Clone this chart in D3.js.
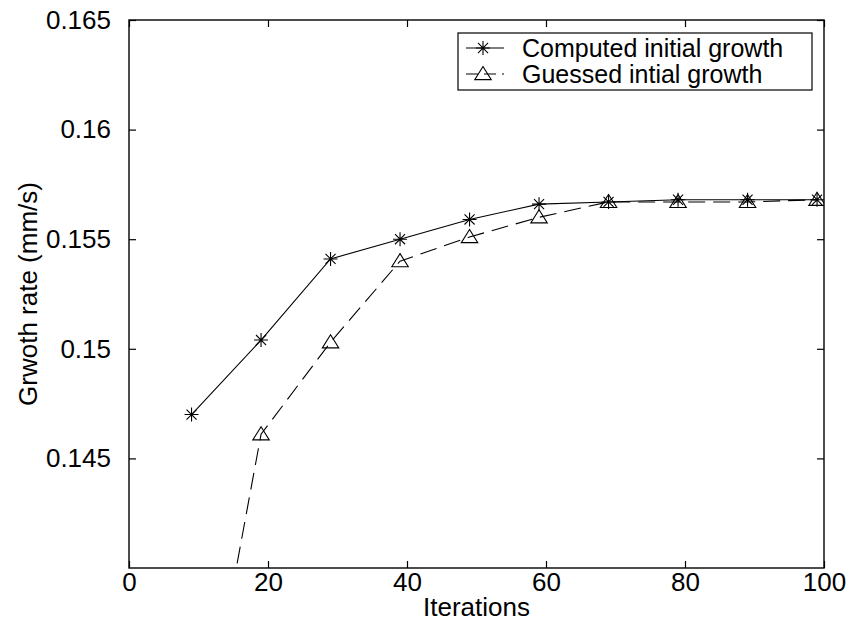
<!DOCTYPE html>
<html>
<head>
<meta charset="utf-8">
<script src="https://cdn.jsdelivr.net/npm/d3@7"></script>
<style>
  html, body { margin: 0; padding: 0; background: #fff; }
  svg { display: block; font-family: "Liberation Sans", Arial, Helvetica, sans-serif; }
</style>
</head>
<body>
<svg id="chart" width="853" height="638"></svg>
<script>
// Iteration counts at which the growth rate was evaluated
const iterations = [9, 19, 29, 39, 49, 59, 69, 79, 89, 99];
// Growth rate (mm/s) starting from the computed initial growth
const computedGrowth = [0.1470, 0.1504, 0.1541, 0.1550, 0.1559, 0.1566, 0.1567, 0.1568, 0.1568, 0.1568];
// Growth rate (mm/s) starting from the guessed initial growth
const guessedGrowth = [0.1290, 0.1461, 0.1503, 0.1540, 0.1551, 0.1560, 0.1567, 0.1567, 0.1567, 0.1568];

const xTicks = [0, 20, 40, 60, 80, 100];
const yTicks = [0.145, 0.15, 0.155, 0.16, 0.165];
const yTickLabels = ["0.145", "0.15", "0.155", "0.16", "0.165"];
const seriesNames = ["Computed initial growth", "Guessed intial growth"];

const svg = d3.select("#chart");
const margin = { left: 129, top: 20, right: 29, bottom: 70 };
const W = 853 - margin.left - margin.right;
const H = 638 - margin.top - margin.bottom;

const x = d3.scaleLinear().domain([0, 100]).range([0, W]);
const y = d3.scaleLinear().domain([0.14, 0.165]).range([H, 0]);

const g = svg.append("g").attr("transform", `translate(${margin.left},${margin.top})`);

svg.append("defs").append("clipPath").attr("id", "plotClip")
  .append("rect").attr("x", 0).attr("y", 0).attr("width", W).attr("height", H);

const tickFont = 26;
const labelFont = 26;
const legendFont = 25;
const tickLen = 7;
const dashPattern = "17,8";

// Axes with inward ticks on all four sides
const xBottom = d3.axisBottom(x).tickValues(xTicks).tickSize(-tickLen).tickPadding(5).tickFormat(d3.format("d"));
const xTop = d3.axisTop(x).tickValues(xTicks).tickSize(-tickLen).tickFormat("");
const yLeft = d3.axisLeft(y).tickValues(yTicks).tickSize(-tickLen).tickPadding(18)
  .tickFormat((d, i) => yTickLabels[i]);
const yRight = d3.axisRight(y).tickValues(yTicks).tickSize(-tickLen).tickFormat("");

function styleAxis(sel) {
  sel.select(".domain").remove();
  sel.selectAll(".tick line").attr("stroke", "#000").attr("stroke-width", 1.2);
  sel.selectAll(".tick text").attr("fill", "#000").style("font-size", tickFont + "px")
    .style("font-family", "'Liberation Sans', Arial, sans-serif");
}

g.append("g").attr("transform", `translate(0,${H})`).call(xBottom).call(styleAxis);
g.append("g").call(xTop).call(styleAxis);
g.append("g").call(yLeft).call(styleAxis);
g.append("g").attr("transform", `translate(${W},0)`).call(yRight).call(styleAxis);

// Plot box
g.append("rect").attr("x", 0).attr("y", 0).attr("width", W).attr("height", H)
  .attr("fill", "none").attr("stroke", "#000").attr("stroke-width", 1.4);

// Axis titles
g.append("text").attr("x", W / 2).attr("y", H + 48).attr("text-anchor", "middle")
  .style("font-size", labelFont + "px").text("Iterations");
g.append("text").attr("transform", `translate(${-92},${H / 2}) rotate(-90)`)
  .attr("text-anchor", "middle").style("font-size", labelFont + "px").text("Grwoth rate (mm/s)");

const line = d3.line().x(d => x(d[0])).y(d => y(d[1]));
const computedPts = iterations.map((it, i) => [it, computedGrowth[i]]);
const guessedPts = iterations.map((it, i) => [it, guessedGrowth[i]]);

const plot = g.append("g").attr("clip-path", "url(#plotClip)");

plot.append("path").datum(computedPts).attr("d", line)
  .attr("fill", "none").attr("stroke", "#000").attr("stroke-width", 1.1);
plot.append("path").datum(guessedPts).attr("d", line)
  .attr("fill", "none").attr("stroke", "#000").attr("stroke-width", 1.1)
  .attr("stroke-dasharray", dashPattern);

// Marker shapes
function asterisk(sel, s) {
  const r = s / 2, k = r * 0.72;
  sel.append("path")
    .attr("d", `M${-r},0L${r},0M0,${-r}L0,${r}M${-k},${-k}L${k},${k}M${-k},${k}L${k},${-k}`)
    .attr("stroke", "#000").attr("stroke-width", 1.1).attr("fill", "none");
}
function triangle(sel, s) {
  const r = s / 2;
  sel.append("path")
    .attr("d", `M0,${-r}L${r * 1.1},${r * 0.75}L${-r * 1.1},${r * 0.75}Z`)
    .attr("stroke", "#000").attr("stroke-width", 1.1).attr("fill", "none");
}

const inDomain = d => d[1] >= y.domain()[0] && d[1] <= y.domain()[1];

plot.selectAll(".m-computed").data(computedPts.filter(inDomain)).enter().append("g")
  .attr("class", "m-computed")
  .attr("transform", d => `translate(${x(d[0])},${y(d[1])})`)
  .each(function () { asterisk(d3.select(this), 14); });

plot.selectAll(".m-guessed").data(guessedPts.filter(inDomain)).enter().append("g")
  .attr("class", "m-guessed")
  .attr("transform", d => `translate(${x(d[0])},${y(d[1])})`)
  .each(function () { triangle(d3.select(this), 15); });

// Legend
const lg = svg.append("g").attr("transform", "translate(458,33)");
lg.append("rect").attr("x", 0).attr("y", 0).attr("width", 354).attr("height", 57)
  .attr("fill", "#fff").attr("stroke", "#000").attr("stroke-width", 1.2);
seriesNames.forEach((name, i) => {
  const cy = 15 + i * 26;
  const row = lg.append("g").attr("transform", `translate(0,${cy})`);
  const ln = row.append("line").attr("x1", 8).attr("x2", 46).attr("y1", 0).attr("y2", 0)
    .attr("stroke", "#000").attr("stroke-width", 1.1);
  if (i === 1) ln.attr("stroke-dasharray", "12,6");
  const mk = row.append("g").attr("transform", "translate(25,0)");
  if (i === 0) asterisk(mk, 14); else triangle(mk, 15);
  row.append("text").attr("x", 64).attr("y", 0).attr("dy", "0.35em")
    .style("font-size", legendFont + "px").text(name);
});
</script>
</body>
</html>
